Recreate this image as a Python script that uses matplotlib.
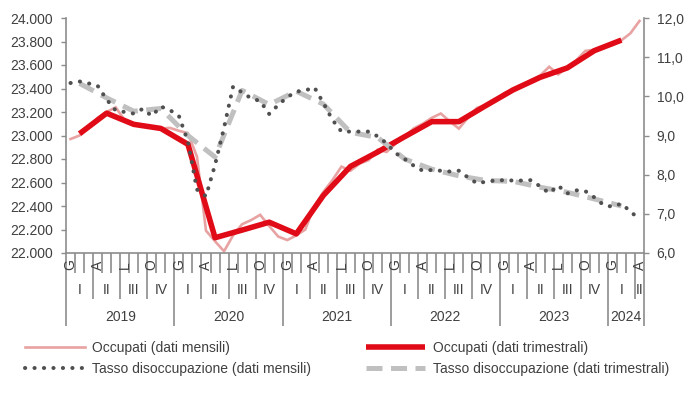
import matplotlib
matplotlib.use("Agg")
import matplotlib.pyplot as plt
from matplotlib.ticker import FuncFormatter, MultipleLocator
import numpy as np

plt.rcParams['font.family'] = ['Liberation Sans', 'DejaVu Sans']
plt.rcParams['font.size'] = 10

# ---------------- data ----------------
years = ["2019", "2020", "2021", "2022", "2023", "2024"]
month_letters = ["G", "A", "L", "O"]          # Jan, Apr, Jul, Oct
quarter_labels = ["I", "II", "III", "IV"]
n_months = 64                                  # Jan 2019 - Apr 2024

occupati_mensili = [
    22970, 23000, 23070, 23150, 23200, 23240, 23130, 23090, 23080, 23070, 23060, 23065,
    23040, 23020, 22820, 22190, 22100, 22015, 22150, 22245, 22280, 22325, 22230, 22140,
    22110, 22150, 22200, 22400, 22520, 22620, 22735, 22700, 22760, 22790, 22880, 22860,
    22930, 22990, 23060, 23100, 23150, 23187, 23120, 23059, 23150, 23235, 23260, 23290,
    23360, 23390, 23430, 23470, 23510, 23585, 23520, 23580, 23640, 23720, 23730, 23760,
    23770, 23810, 23870, 23975]

occupati_trimestrali = [
    23015, 23190, 23095, 23060, 22925, 22130, 22195, 22262, 22163, 22490, 22737,
    22859, 22990, 23118, 23118, 23255, 23388, 23495, 23575, 23722, 23812]

tasso_mensili = [
    10.34, 10.38, 10.33, 10.27, 9.92, 9.64, 9.60, 9.56, 9.68, 9.50, 9.74, 9.65,
    9.50, 8.85, 7.62, 7.45, 8.25, 9.20, 10.25, 10.10, 9.95, 9.88, 9.55, 9.78,
    9.98, 10.12, 10.15, 10.23, 9.83, 9.40, 9.10, 9.10, 9.10, 9.10, 8.98, 8.80,
    8.55, 8.40, 8.23, 8.10, 8.12, 8.10, 8.08, 8.10, 7.93, 7.78, 7.82, 7.85,
    7.86, 7.85, 7.85, 7.86, 7.70, 7.53, 7.72, 7.52, 7.60, 7.58, 7.42, 7.23,
    7.18, 7.26, 7.06, 6.86]

tasso_trimestrali = [
    10.33, 9.96, 9.62, 9.69, 9.00, 8.45, 10.15, 9.79, 10.13, 9.80, 9.08,
    8.95, 8.40, 8.14, 7.97, 7.85, 7.83, 7.68, 7.55, 7.38, 7.20]

# ---------------- figure ----------------
W, H = 696, 403
fig = plt.figure(figsize=(W / 100, H / 100), dpi=100)
L, R, T, B = 66, 644, 18, 253
ax = fig.add_axes([L / W, (H - B) / H, (R - L) / W, (B - T) / H])
ax2 = ax.twinx()

text_col = '#404040'
axis_col = '#8c8c8c'

xm = np.arange(n_months)
xq = np.arange(1, n_months, 3)[:len(occupati_trimestrali)]

ax.plot(xm, occupati_mensili, color='#e8a2a2', lw=1.9, solid_joinstyle='miter',
        label='Occupati (dati mensili)', zorder=2)
ax.plot(xq, occupati_trimestrali, color='#e00b17', lw=4.0, solid_joinstyle='round',
        solid_capstyle='butt', label='Occupati (dati trimestrali)', zorder=3)

l_tq, = ax2.plot(xq, tasso_trimestrali, color='#c0c0c0', lw=3.6,
                 linestyle=(0, (3.2, 1.7)), dash_capstyle='butt',
                 label='Tasso disoccupazione (dati trimestrali)', zorder=2)
l_tm, = ax2.plot(xm, tasso_mensili, color='#505050', lw=2.9,
                 linestyle=(0, (0.05, 2.3)), dash_capstyle='round',
                 label='Tasso disoccupazione (dati mensili)', zorder=3)

ax.set_xlim(-0.5, n_months - 0.5)
ax.set_ylim(22000, 24000)
ax2.set_ylim(6, 12)
ax.yaxis.set_major_locator(MultipleLocator(200))
ax2.yaxis.set_major_locator(MultipleLocator(1))
ax.yaxis.set_major_formatter(FuncFormatter(lambda v, p: f"{v:,.0f}".replace(',', '.')))
ax2.yaxis.set_major_formatter(FuncFormatter(lambda v, p: f"{v:.1f}".replace('.', ',')))

for a in (ax, ax2):
    a.set_xticks([])
    a.tick_params(axis='y', direction='out', length=3.6, width=1.0, color=axis_col,
                  labelcolor=text_col, labelsize=10, pad=5.5)
    for s in a.spines.values():
        s.set_visible(False)
ax.spines['left'].set_visible(True)
ax.spines['bottom'].set_visible(True)
ax2.spines['right'].set_visible(True)
for s in (ax.spines['left'], ax.spines['bottom'], ax2.spines['right']):
    s.set_color(axis_col)
    s.set_linewidth(1.2)

# ---------------- multi-level category axis ----------------
ah = B - T
tr = ax.get_xaxis_transform()
for b in range(n_months + 1):
    xb = b - 0.5
    if b % 12 == 0 or b == n_months:
        y_end = -(326 - B) / ah
    elif b % 3 == 0:
        y_end = -(299 - B) / ah
    else:
        y_end = -(273 - B) / ah
    ax.plot([xb, xb], [0, y_end], transform=tr, color=axis_col, lw=1.2,
            clip_on=False, solid_capstyle='butt')

for m in range(0, n_months, 3):
    ax.text(m, -(265 - B) / ah, month_letters[(m % 12) // 3], transform=tr,
            rotation=90, ha='center', va='center', color=text_col, fontsize=10)

for q in range(0, n_months, 3):
    q_end = min(q + 3, n_months)
    ax.text((q + q_end - 1) / 2, -(290 - B) / ah, quarter_labels[(q % 12) // 3],
            transform=tr, ha='center', va='center', color=text_col, fontsize=10)

for i, y in enumerate(years):
    s = i * 12
    e = min(s + 12, n_months)
    ax.text((s + e - 1) / 2, -(317 - B) / ah, y, transform=tr,
            ha='center', va='center', color=text_col, fontsize=10)

# ---------------- legend ----------------
h1, l1 = ax.get_legend_handles_labels()
handles = [h1[0], l_tm, h1[1], l_tq]
labels = [h.get_label() for h in handles]
fig.legend(handles, labels, ncol=2, loc='upper left',
           bbox_to_anchor=(25 / W, 1 - 341 / H), frameon=False,
           borderpad=0, borderaxespad=0, handlelength=4.3, handletextpad=0.55,
           columnspacing=3.9, labelspacing=0.5, fontsize=10, labelcolor=text_col)

fig.savefig("out.png", dpi=100)
